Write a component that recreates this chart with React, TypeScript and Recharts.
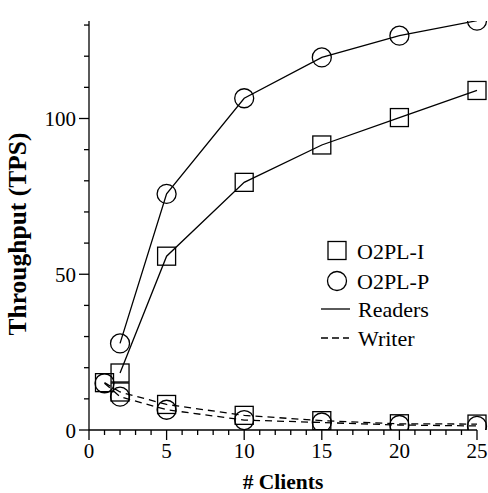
import { Legend, Line, LineChart, XAxis, YAxis } from "recharts"

const clients = [1, 2, 5, 10, 15, 20, 25]
const readersI = [null, 18.3, 55.8, 79.5, 91.5, 100.3, 109]
const readersP = [null, 27.8, 75.8, 106.5, 119.6, 126.6, 131.4]
const writerI = [15.2, 12.2, 8.2, 4.7, 3.0, 2.0, 1.9]
const writerP = [15.0, 10.7, 6.5, 3.2, 2.4, 1.6, 1.3]

const xTicks = Array.from({ length: 26 }, (_, i) => i)
const yTicks = [0, 10, 20, 30, 40, 50, 60, 70, 80, 90, 100, 110, 120, 130]
const xLabeled = [0, 5, 10, 15, 20, 25]
const yLabeled = [0, 50, 100]

const data = clients.map((x, i) => ({
  x,
  readersI: readersI[i],
  readersP: readersP[i],
  writerI: writerI[i],
  writerP: writerP[i],
}))

const FONT = "Liberation Serif"
const txt = { fontFamily: FONT }

function XTick(props: any) {
  const { x, y, payload } = props
  const major = xLabeled.includes(payload.value)
  return (
    <g>
      <line x1={x} x2={x} y1={y} y2={y + (major ? 10 : 5)} stroke="#000" strokeWidth={1.3} />
      {major && (
        <text x={x} y={y + 28} textAnchor="middle" style={txt} fontSize={21} fill="#000">
          {payload.value}
        </text>
      )}
    </g>
  )
}

function YTick(props: any) {
  const { x, y, payload } = props
  const major = yLabeled.includes(payload.value)
  return (
    <g>
      <line x1={x} x2={x - (major ? 10 : 5)} y1={y} y2={y} stroke="#000" strokeWidth={1.3} />
      {major && (
        <text x={x - 13} y={y + 7.5} textAnchor="end" style={txt} fontSize={21} fill="#000">
          {payload.value}
        </text>
      )}
    </g>
  )
}

function squareDot(props: any) {
  const { cx, cy, index } = props
  if (cy == null || cx == null) return <g key={index} />
  return (
    <rect key={index} x={cx - 9} y={cy - 9} width={18} height={18} fill="none" stroke="#000" strokeWidth={1.3} />
  )
}

function circleDot(props: any) {
  const { cx, cy, index } = props
  if (cy == null || cx == null) return <g key={index} />
  return <circle key={index} cx={cx} cy={cy} r={9.5} fill="none" stroke="#000" strokeWidth={1.3} />
}

function LegendBox() {
  const t = { style: txt, fontSize: 22, fill: "#000" }
  return (
    <svg width={173} height={130}>
      <rect x={13} y={11.5} width={18} height={18} fill="none" stroke="#000" strokeWidth={1.3} />
      <text x={42} y={29} {...t}>O2PL-I</text>
      <circle cx={22} cy={51} r={9.5} fill="none" stroke="#000" strokeWidth={1.3} />
      <text x={42} y={59} {...t}>O2PL-P</text>
      <line x1={6} x2={35} y1={79} y2={79} stroke="#000" strokeWidth={1.3} />
      <text x={43} y={87} {...t}>Readers</text>
      <line x1={6} x2={34} y1={108} y2={108} stroke="#000" strokeWidth={1.3} strokeDasharray="7 4" />
      <text x={43} y={116} {...t}>Writer</text>
    </svg>
  )
}

export default function App() {
  return (
    <div style={{ position: "absolute", left: 0, top: 0, width: 488, height: 493, background: "#fff", fontFamily: FONT }}>
      <LineChart
        width={488}
        height={493}
        data={data}
        margin={{ top: 21, right: 11, bottom: 0, left: 0 }}
      >
        <XAxis
          dataKey="x"
          type="number"
          domain={[0, 25]}
          ticks={xTicks}
          interval={0}
          tickSize={0}
          tickMargin={0}
          tickLine={false}
          tick={<XTick />}
          axisLine={{ stroke: "#000", strokeWidth: 1.3 }}
          height={63}
          label={{
            content: (p: any) => {
              const vb = p.viewBox
              return (
                <text
                  x={vb.x + vb.width / 2}
                  y={489}
                  textAnchor="middle"
                  style={txt}
                  fontSize={21.5}
                  fontWeight="bold"
                  fill="#000"
                >
                  # Clients
                </text>
              )
            },
          }}
        />
        <YAxis
          type="number"
          domain={[0, 131.3]}
          allowDataOverflow
          ticks={yTicks}
          interval={0}
          tickSize={0}
          tickMargin={0}
          tickLine={false}
          tick={<YTick />}
          axisLine={{ stroke: "#000", strokeWidth: 1.3 }}
          width={89}
          label={{
            content: () => (
              <text
                x={26}
                y={234}
                transform="rotate(-90, 26, 234)"
                textAnchor="middle"
                style={txt}
                fontSize={25.5}
                fontWeight="bold"
                fill="#000"
              >
                Throughput (TPS)
              </text>
            ),
          }}
        />
        <Legend
          layout="vertical"
          align="center"
          verticalAlign="middle"
          content={() => <LegendBox />}
          wrapperStyle={{ left: 315, top: 230, width: 173, height: 130 }}
        />
        <Line dataKey="readersI" stroke="#000" strokeWidth={1.3} dot={squareDot} activeDot={false} isAnimationActive={false} />
        <Line dataKey="readersP" stroke="#000" strokeWidth={1.3} dot={circleDot} activeDot={false} isAnimationActive={false} />
        <Line dataKey="writerI" stroke="#000" strokeWidth={1.3} strokeDasharray="7 5" dot={squareDot} activeDot={false} isAnimationActive={false} />
        <Line dataKey="writerP" stroke="#000" strokeWidth={1.3} strokeDasharray="7 5" dot={circleDot} activeDot={false} isAnimationActive={false} />
      </LineChart>
    </div>
  )
}
